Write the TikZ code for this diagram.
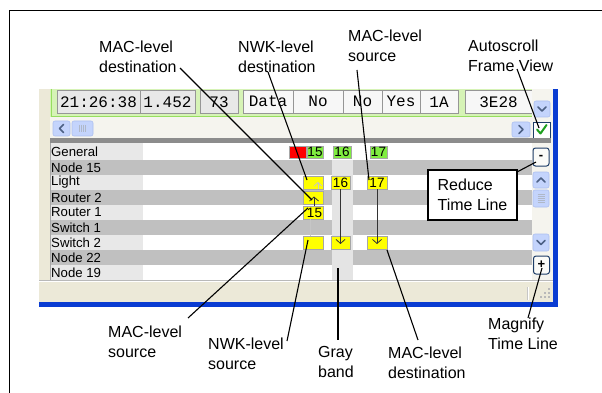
\documentclass[tikz,border=0pt]{standalone}
\usepackage{fontspec}
\setmainfont{Liberation Sans}
\setmonofont{Liberation Mono}
\usetikzlibrary{arrows.meta,calc}
\definecolor{xpbeige}{RGB}{236,233,216}
\definecolor{xpblue}{RGB}{10,60,210}
\definecolor{selgreen}{RGB}{214,243,182}
\definecolor{selgreenb}{RGB}{150,222,96}
\definecolor{cellgray}{RGB}{232,232,232}
\definecolor{cellwhite}{RGB}{247,247,247}
\definecolor{cellbord}{RGB}{150,150,150}
\definecolor{rowgray}{RGB}{192,192,192}
\definecolor{labgray}{RGB}{232,232,232}
\definecolor{bandgray}{RGB}{228,228,228}
\definecolor{sepgray}{RGB}{140,140,140}
\definecolor{btnblue}{RGB}{196,212,252}
\definecolor{btnblueb}{RGB}{172,192,240}
\definecolor{chev}{RGB}{77,97,133}
\definecolor{pktgreen}{RGB}{128,236,64}
\definecolor{pktyellow}{RGB}{255,255,0}
\definecolor{trackbg}{RGB}{245,244,238}
\definecolor{darkbtn}{RGB}{30,62,104}
\definecolor{checkgreen}{RGB}{30,160,30}
\begin{document}
\begin{tikzpicture}[x=1pt,y=-1pt,
  callout/.style={draw=black,line width=1.1pt},
  lbl/.style={anchor=north west,inner sep=0pt,align=left,font=\fontsize{16}{20}\selectfont},
  rowlbl/.style={anchor=west,inner sep=0pt,font=\fontsize{13.2}{14}\selectfont},
  hcell/.style={draw=cellbord,line width=0.8pt,font=\ttfamily\fontsize{16}{18}\selectfont,inner sep=0pt,minimum height=22.5pt},
  pkt/.style={draw=gray!70,line width=0.4pt,inner sep=0pt,font=\fontsize{13.5}{14}\selectfont},
  xpbtn/.style={fill=btnblue,draw=btnblueb,rounded corners=2pt,line width=0.6pt},
  chevron/.style={draw=chev,line width=1.6pt,line cap=round,line join=round},
  grip/.style={draw=chev!45,line width=0.6pt},
  tlbtn/.style={draw=darkbtn,fill=trackbg!40!white,rounded corners=2.5pt,line width=1pt,inner sep=0pt,minimum width=16pt,minimum height=18pt,font=\fontsize{13}{14}\selectfont\bfseries},
  arr/.style={draw=black!80,line width=0.8pt,-{Straight Barb[length=4pt,width=9pt]}},
  arrlight/.style={draw=gray!45,line width=0.8pt,-{Straight Barb[length=3.5pt,width=8pt]}}
]
\useasboundingbox (0,0) rectangle (602,393);
% screenshot base
\fill[xpbeige] (39,89) rectangle (553,302);
% selected (green) header row
\fill[selgreen] (50,89) rectangle (532,117);
\draw[selgreenb,line width=1pt] (51,89) -- (51,116.5) -- (532,116.5);
% header cells
\node[hcell,fill=cellgray,minimum width=83pt] (h1) at (98.5,101.75) {21:26:38};
\node[hcell,fill=cellgray,minimum width=55pt] (h2) at (167.5,101.75) {1.452};
\node[hcell,fill=cellgray,minimum width=38pt] (h3) at (219,101.75) {73};
\node[hcell,fill=cellwhite,minimum width=50pt] (h4) at (268,101.75) {Data};
\node[hcell,fill=cellwhite,minimum width=50pt] (h5) at (318,101.75) {No};
\node[hcell,fill=cellwhite,minimum width=39pt] (h6) at (362.5,101.75) {No};
\node[hcell,fill=cellwhite,minimum width=38pt] (h7) at (401,101.75) {Yes};
\node[hcell,fill=cellwhite,minimum width=38pt] (h8) at (439,101.75) {1A};
\node[hcell,fill=cellwhite,minimum width=67pt] (h9) at (498.5,101.75) {3E28};
% right column background
\fill[trackbg] (532,89) rectangle (553,280);
% header scroll-down button
\draw[xpbtn] (534,101) rectangle (550,117);
\draw[chevron] (538,107) -- (542,111) -- (546,107);
% horizontal scrollbar row
\fill[trackbg] (50,117.5) rectangle (532,138.5);
\draw[xpbtn] (53,121) rectangle (70,136);
\draw[chevron] (63.5,124.5) -- (59.5,128.5) -- (63.5,132.5);
\draw[xpbtn] (72,121) rectangle (93,136);
\foreach \gx in {79.5,81.5,83.5,85.5} \draw[grip] (\gx,125) -- (\gx,132);
\draw[xpbtn] (512,122) rectangle (530,137);
\draw[chevron] (519,125.5) -- (523,129.5) -- (519,133.5);
% autoscroll checkbox
\draw[fill=white,draw=darkbtn,line width=0.9pt] (533,122) rectangle (550,138);
\draw[checkgreen,line width=2pt,line cap=round,line join=round] (537,129.5) -- (540.5,133.5) -- (546.5,125);
% separator
\fill[sepgray] (50,138.5) rectangle (551,143);
% rows
\fill[white] (50,143) rectangle (532,280);
\fill[labgray] (50,143) rectangle (143,280);
\foreach \ry in {160,190,220,250} \fill[rowgray] (50,\ry) rectangle (532,\ry+15);
\draw[gray!70,line width=0.6pt] (50,143) -- (50,280);
\node[rowlbl] (rGeneral) at (51,151.5) {General};
\node[rowlbl] (rNode15) at (51,167.5) {Node 15};
\node[rowlbl] (rLight) at (51,182.5) {Light};
\node[rowlbl] (rRouter2) at (51,197.5) {Router 2};
\node[rowlbl] (rRouter1) at (51,212.5) {Router 1};
\node[rowlbl] (rSwitch1) at (51,227.5) {Switch 1};
\node[rowlbl] (rSwitch2) at (51,242.5) {Switch 2};
\node[rowlbl] (rNode22) at (51,257.5) {Node 22};
\node[rowlbl] (rNode19) at (51,272.5) {Node 19};
% gray band
\fill[bandgray] (332,160) rectangle (353,280);
% packets, General row
\node[pkt,fill=red,minimum width=17pt,minimum height=12pt] (pR) at (297.5,152) {};
\node[pkt,fill=pktgreen,minimum width=16pt,minimum height=12pt] (g15) at (315,152) {15};
\node[pkt,fill=pktgreen,minimum width=18pt,minimum height=12pt] (g16) at (342,152) {16};
\node[pkt,fill=pktgreen,minimum width=17pt,minimum height=12pt] (g17) at (378.5,152) {17};
% Light row
\node[pkt,fill=pktyellow,minimum width=20pt,minimum height=13pt] (L1) at (313,182.5) {};
\node[pkt,fill=pktyellow,minimum width=19pt,minimum height=13pt] (L16) at (340.5,182.5) {16};
\node[pkt,fill=pktyellow,minimum width=20pt,minimum height=13pt] (L17) at (377,182.5) {17};
% Router 2 / Router 1 rows
\node[pkt,fill=pktyellow,minimum width=20pt,minimum height=13pt] (R2) at (313,197.5) {};
\node[pkt,fill=pktyellow,minimum width=20pt,minimum height=13pt] (R1) at (313,212.5) {\hspace*{3pt}15};
% Switch 2 row
\node[pkt,fill=pktyellow,minimum width=20pt,minimum height=13pt] (S1) at (313,242.5) {};
\node[pkt,fill=pktyellow,minimum width=19pt,minimum height=13pt] (S16) at (340.5,242.5) {};
\node[pkt,fill=pktyellow,minimum width=20pt,minimum height=13pt] (S17) at (377,242.5) {};
% packet arrows
\draw[arrlight] (318,189) -- (318,182);
\draw[arr] (314,206) -- (314,196.5);
\draw[gray!45,line width=0.8pt] (310,219) -- (310,236);
\draw[arr] (L16.south) -- ($(S16.center)+(0,1.5)$);
\draw[arr] (L17.south) -- ($(S17.center)+(0,1.5)$);
% right scroll column buttons
\node[tlbtn] (bminus) at (541,157) {-};
\draw[xpbtn] (533,172) rectangle (549,188);
\draw[chevron] (537,182) -- (541,178) -- (545,182);
\draw[xpbtn] (533,190) rectangle (549,207);
\foreach \gy in {194.5,196.5,198.5,200.5,202.5} \draw[grip] (537.5,\gy) -- (544.5,\gy);
\draw[xpbtn] (533,234) rectangle (549,251);
\draw[chevron] (537,240.5) -- (541,244.5) -- (545,240.5);
\node[tlbtn] (bplus) at (541.5,265) {+};
% status bar
\draw[gray!55,line width=0.6pt] (39,280) -- (553,280);
\draw[white,line width=1pt] (39,281.5) -- (553,281.5);
\draw[gray!45,line width=0.8pt] (527,287) -- (527,300);
\draw[white,line width=0.8pt] (528,287) -- (528,300);
\foreach \dx/\dy in {548/288,548/292,544/292,548/296,544/296,540/296}
  \fill[gray!55] (\dx,\dy) rectangle (\dx+2,\dy+2);
% blue window frame
\fill[xpblue] (553,89) rectangle (558,307);
\fill[xpblue] (39,301.5) rectangle (558,307);
% outer frame
\draw[line width=1.4pt] (602,10.5) -- (9.7,10.5) -- (9.7,393);
% labels
\node[lbl] (tMACd) at (99,40.5) {MAC-level\\destination};
\node[lbl] (tNWKd) at (238,40.5) {NWK-level\\destination};
\node[lbl] (tMACs) at (348,29.5) {MAC-level\\source};
\node[lbl] (tAuto) at (468,39.5) {Autoscroll\\Frame View};
\node[draw,line width=1.2pt,fill=white,minimum width=89pt,minimum height=50pt,align=left,font=\fontsize{16}{20}\selectfont,inner sep=0pt] (tRed) at (472.5,195) {Reduce\\Time Line};
\node[lbl] (tMACs2) at (108,325.5) {MAC-level\\source};
\node[lbl] (tNWKs) at (208,337.5) {NWK-level\\source};
\node[lbl] (tGray) at (318,346.5) {Gray\\band};
\node[lbl] (tMACd2) at (388,346.5) {MAC-level\\destination};
\node[lbl] (tMag) at (488,317.5) {Magnify\\Time Line};
% callout end points
\coordinate (a1) at (180,68);   \coordinate (a2) at (312,200);
\coordinate (b1) at (268,72);   \coordinate (b2) at (307,180);
\coordinate (c1) at (357,70);   \coordinate (c2) at (369,180);
\coordinate (d1) at (517,69);   \coordinate (d2) at (539,128);
\coordinate (e1) at (517,172);  \coordinate (e2) at (536,162);
\coordinate (f1) at (542,268);  \coordinate (f2) at (528,318);
\coordinate (g1) at (387,250);  \coordinate (g2) at (418,340);
\coordinate (h1c) at (338,268); \coordinate (h2c) at (338,340);
\coordinate (i1) at (308,240);  \coordinate (i2) at (287,341);
\coordinate (j1) at (308,208);  \coordinate (j2) at (188,318);
\draw[callout] (a1) -- (a2);
\draw[callout] (b1) -- (b2);
\draw[callout] (c1) -- (c2);
\draw[callout] (d1) -- (d2);
\draw[callout] (e1) -- (e2);
\draw[callout] (f1) -- (f2);
\draw[callout] (g1) -- (g2);
\draw[callout] (h1c) -- (h2c);
\draw[callout] (i1) -- (i2);
\draw[callout] (j1) -- (j2);
\end{tikzpicture}
\end{document}
